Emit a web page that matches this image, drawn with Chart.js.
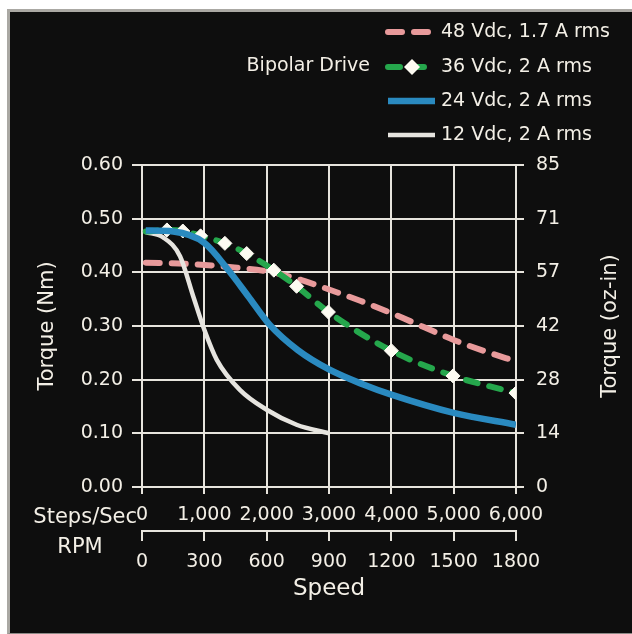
<!DOCTYPE html>
<html>
<head>
<meta charset="utf-8">
<script src="https://cdn.jsdelivr.net/npm/chart.js@4.4.1/dist/chart.umd.min.js"></script>
<style>
body { margin: 0; background: #fff; }
#frame { position: absolute; left: 7px; top: 9px; width: 625px; height: 625px; box-sizing: border-box;
  border-left: 3px solid #aaa8a3; border-top: 3px solid #aaa8a3; border-bottom: 1px solid #8c8a86; background: #0e0e0e; }
#wrap { position: absolute; left: 0; top: 0; width: 632px; height: 634px; }
</style>
</head>
<body>
<div id="frame"></div>
<div id="wrap"><canvas id="myChart" width="632" height="634"></canvas></div>
<script>
// tick labels
var stepLabels = ['0', '1,000', '2,000', '3,000', '4,000', '5,000', '6,000'];
var rpmLabels = ['0', '300', '600', '900', '1200', '1500', '1800'];
var ozLabels = ['0', '14', '28', '42', '57', '71', '85'];
var seriesNames = ['48 Vdc, 1.7 A rms', '36 Vdc, 2 A rms', '24 Vdc, 2 A rms', '12 Vdc, 2 A rms'];

// series, speed in steps/sec, torque in Nm
var speed48 = [60, 700, 1400, 2100, 2600, 3000, 3500, 4000, 4500, 5000, 5500, 6000];
var torque48 = [0.418, 0.416, 0.410, 0.400, 0.384, 0.368, 0.347, 0.324, 0.299, 0.274, 0.253, 0.234];

var speed36 = [60, 400, 655, 940, 1330, 1680, 2115, 2480, 2990, 4000, 4990, 6000];
var torque36 = [0.476, 0.479, 0.477, 0.468, 0.454, 0.435, 0.404, 0.374, 0.326, 0.254, 0.207, 0.175];
var markers36 = [0, 7, 7, 7, 7, 7, 7, 7, 7, 7, 7, 7];

var speed24 = [60, 500, 1000, 1400, 1700, 2050, 2500, 3000, 3550, 4000, 5000, 6000];
var torque24 = [0.478, 0.476, 0.455, 0.402, 0.356, 0.302, 0.255, 0.219, 0.191, 0.172, 0.138, 0.116];

var speed12 = [60, 340, 610, 820, 1000, 1200, 1570, 2000, 2480, 3000];
var torque12 = [0.475, 0.465, 0.430, 0.356, 0.293, 0.237, 0.181, 0.144, 0.116, 0.100];

var textColor = '#f3efe6';
var gridColor = '#e7e4dd';
var fontFam = '"DejaVu Sans", sans-serif';

function pts(xs, ys) {
    return xs.map(function (x, i) { return { x: x, y: ys[i] }; });
}

// legend, side labels and right title
var extras = {
    id: 'extras',
    afterDraw: function (chart) {
        var c = chart.ctx;
        c.save();
        c.fillStyle = textColor;
        c.textBaseline = 'middle';
        c.font = '19px ' + fontFam;
        c.textAlign = 'right';
        c.fillText('Bipolar Drive', 370, 66);

        var rows = [32, 67, 101, 135];
        chart.data.datasets.forEach(function (ds, i) {
            var y = rows[i];
            c.strokeStyle = ds.borderColor;
            c.lineWidth = ds.borderWidth;
            c.lineCap = ds.borderCapStyle || 'butt';
            c.setLineDash(ds.borderDash || []);
            c.beginPath();
            c.moveTo(388, y);
            c.lineTo(435, y);
            c.stroke();
            c.setLineDash([]);
            if (ds.legendMarker) {
                c.fillStyle = ds.pointBackgroundColor;
                c.beginPath();
                c.moveTo(412, y - 8);
                c.lineTo(420, y);
                c.lineTo(412, y + 8);
                c.lineTo(404, y);
                c.closePath();
                c.fill();
            }
            c.fillStyle = textColor;
            c.textAlign = 'left';
            c.fillText(seriesNames[i], 441, y);
        });

        c.font = '21px ' + fontFam;
        c.textAlign = 'right';
        c.fillText('Steps/Sec', chart.chartArea.left - 5, chart.scales.x.top + 31);
        c.textAlign = 'center';
        c.fillText('RPM', 80, chart.scales.x2.top + 17);

        c.translate(611, (chart.chartArea.top + chart.chartArea.bottom) / 2);
        c.rotate(-Math.PI / 2);
        c.fillText('Torque (oz-in)', 0, 0);
        c.restore();
    }
};

var ctx = document.getElementById('myChart').getContext('2d');
var myChart = new Chart(ctx, {
    type: 'line',
    data: {
        datasets: [{
            label: seriesNames[0],
            data: pts(speed48, torque48),
            borderColor: '#e89a9b',
            borderWidth: 6,
            borderDash: [14, 12],
            borderCapStyle: 'round',
            pointRadius: 0,
            order: 3
        }, {
            label: seriesNames[1],
            data: pts(speed36, torque36),
            borderColor: '#25a74c',
            borderWidth: 6,
            borderDash: [12, 12],
            borderCapStyle: 'round',
            pointStyle: 'rectRot',
            pointRadius: markers36,
            pointBackgroundColor: '#fdfbf2',
            pointBorderColor: '#fdfbf2',
            pointBorderWidth: 1,
            legendMarker: true,
            order: 1
        }, {
            label: seriesNames[2],
            data: pts(speed24, torque24),
            borderColor: '#2a8ac0',
            borderWidth: 6.5,
            pointRadius: 0,
            order: 0
        }, {
            label: seriesNames[3],
            data: pts(speed12, torque12),
            borderColor: '#e6e4df',
            borderWidth: 4.5,
            pointRadius: 0,
            order: 2
        }]
    },
    options: {
        responsive: false,
        animation: false,
        events: [],
        elements: { line: { cubicInterpolationMode: 'monotone' } },
        layout: { padding: { top: 165, left: 0, right: 0, bottom: 0 } },
        plugins: { legend: { display: false }, tooltip: { enabled: false } },
        scales: {
            x: {
                type: 'linear', position: 'bottom', min: 0, max: 6000, weight: 0,
                afterFit: function (s) { s.height = 44; },
                ticks: {
                    stepSize: 1000, autoSkip: false, maxRotation: 0, padding: 10,
                    color: textColor, font: { family: fontFam, size: 19 },
                    callback: function (v, i) { return stepLabels[i]; }
                },
                grid: { color: gridColor, lineWidth: 2, tickLength: 7 },
                border: { color: gridColor, width: 2 }
            },
            x2: {
                type: 'linear', position: 'bottom', min: 0, max: 1800, weight: 1,
                afterFit: function (s) { s.height = 103; },
                ticks: {
                    stepSize: 300, autoSkip: false, maxRotation: 0, padding: 10,
                    color: textColor, font: { family: fontFam, size: 19 },
                    callback: function (v, i) { return rpmLabels[i]; }
                },
                grid: { drawOnChartArea: false, color: gridColor, lineWidth: 2, tickLength: 10 },
                border: { color: gridColor, width: 2 },
                title: { display: true, text: 'Speed', color: textColor,
                    font: { family: fontFam, size: 23 }, padding: { top: 0, bottom: 31 } }
            },
            y: {
                position: 'left', min: 0, max: 0.6,
                afterFit: function (s) { s.width = 142; },
                ticks: {
                    stepSize: 0.1, padding: 9, color: textColor, font: { family: fontFam, size: 19 },
                    callback: function (v) { return v.toFixed(2); }
                },
                grid: { color: gridColor, lineWidth: 2, tickLength: 10 },
                border: { color: gridColor, width: 2 },
                title: { display: true, text: 'Torque (Nm)', color: textColor,
                    font: { family: fontFam, size: 21 }, padding: { top: 35, bottom: 0 } }
            },
            y2: {
                position: 'right', min: 0, max: 0.6,
                afterFit: function (s) { s.width = 116; },
                ticks: {
                    stepSize: 0.1, padding: 12, color: textColor, font: { family: fontFam, size: 19 },
                    callback: function (v, i) { return ozLabels[i]; }
                },
                grid: { drawOnChartArea: false, color: gridColor, lineWidth: 2, tickLength: 8 },
                border: { color: gridColor, width: 2 }
            }
        }
    },
    plugins: [extras]
});
</script>
</body>
</html>
